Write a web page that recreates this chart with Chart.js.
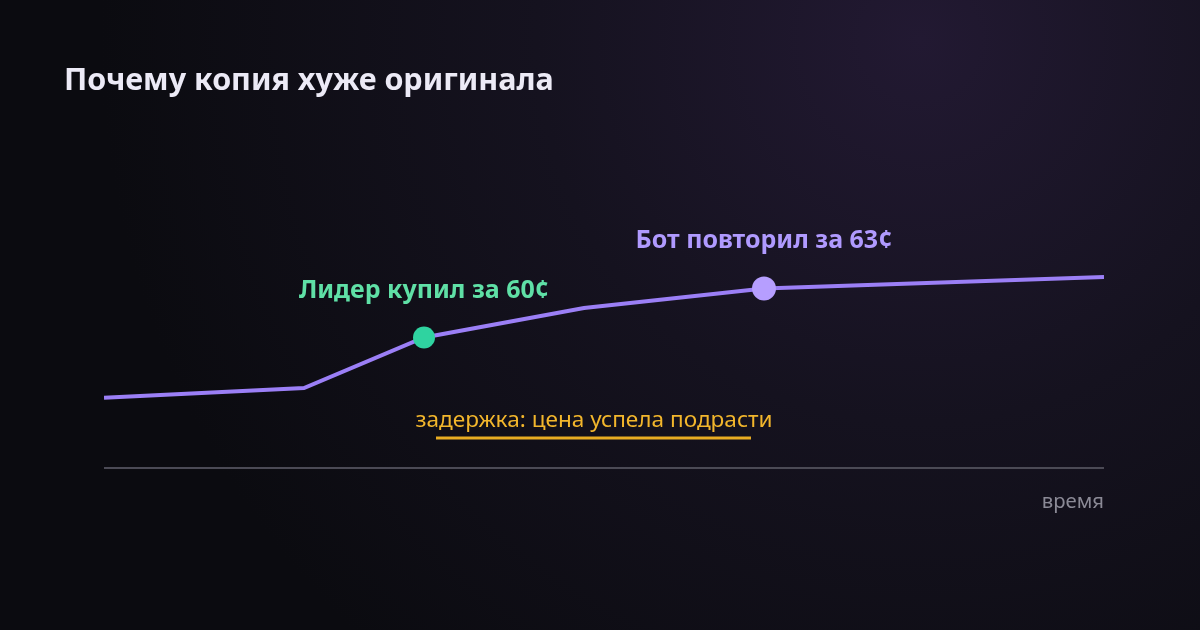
<!DOCTYPE html>
<html>
<head>
<meta charset="utf-8">
<script src="https://cdn.jsdelivr.net/npm/chart.js@4"></script>
<style>
  html, body { margin: 0; padding: 0; }
  body {
    width: 1200px; height: 630px; overflow: hidden;
    background: radial-gradient(circle at 920px 40px, #221932 0%, #15121f 35%, #0b0b10 75%);
  }
  #wrap { position: relative; width: 1200px; height: 630px; }
</style>
</head>
<body>
<div id="wrap"><canvas id="priceChart" width="1200" height="630"></canvas></div>
<script>
// time position (arbitrary units) and price in cents
var times = [0, 2, 3.2, 4.8, 6.6, 10];
var prices = [56.3, 56.9, 60, 61.8, 63, 63.7];
var leaderIndex = 2;
var botIndex = 4;
var leaderLabel = 'Лидер купил за 60¢';
var botLabel = 'Бот повторил за 63¢';
var delayLabel = 'задержка: цена успела подрасти';
var axisLabel = 'время';
var titleText = 'Почему копия хуже оригинала';

var FONT = '"Noto Sans", "Open Sans", sans-serif';

var points = times.map(function (t, i) { return { x: t, y: prices[i] }; });

var radii = prices.map(function (p, i) {
    if (i === leaderIndex) return 11;
    if (i === botIndex) return 12;
    return 0;
});
var dotColors = prices.map(function (p, i) {
    return i === leaderIndex ? '#2fd3a0' : '#b69eff';
});

var overlay = {
    id: 'overlay',
    afterDraw: function (chart) {
        var ctx = chart.ctx;
        var xs = chart.scales.x, ys = chart.scales.y;
        var area = chart.chartArea;
        ctx.save();

        // title
        ctx.fillStyle = '#eceaf6';
        ctx.font = 'bold 30.5px ' + FONT;
        ctx.textAlign = 'left';
        ctx.textBaseline = 'middle';
        ctx.fillText(titleText, 64, 81);

        // axis line
        ctx.strokeStyle = '#4b4a55';
        ctx.lineWidth = 2;
        ctx.beginPath();
        ctx.moveTo(area.left, area.bottom);
        ctx.lineTo(area.right, area.bottom);
        ctx.stroke();

        ctx.fillStyle = '#8b8a96';
        ctx.font = '20.3px ' + FONT;
        ctx.textAlign = 'right';
        ctx.fillText(axisLabel, area.right, area.bottom + 34);

        var lx = xs.getPixelForValue(times[leaderIndex]);
        var ly = ys.getPixelForValue(prices[leaderIndex]);
        var bx = xs.getPixelForValue(times[botIndex]);
        var by = ys.getPixelForValue(prices[botIndex]);

        ctx.textAlign = 'center';
        ctx.font = 'bold 25px ' + FONT;
        ctx.fillStyle = '#5fe0a6';
        ctx.fillText(leaderLabel, lx, ly - 47);
        ctx.fillStyle = '#b09aff';
        ctx.fillText(botLabel, bx, by - 48);

        // delay note
        ctx.fillStyle = '#f2b62c';
        ctx.font = '22.6px ' + FONT;
        ctx.fillText(delayLabel, (lx + bx) / 2, area.bottom - 47);
        ctx.strokeStyle = '#e8ac22';
        ctx.lineWidth = 3;
        ctx.beginPath();
        ctx.moveTo(lx + 12, area.bottom - 30);
        ctx.lineTo(bx - 13, area.bottom - 30);
        ctx.stroke();

        ctx.restore();
    }
};

var priceChart = new Chart(document.getElementById('priceChart'), {
    type: 'line',
    data: {
        datasets: [{
            data: points,
            borderColor: '#9b7ff6',
            borderWidth: 4,
            tension: 0,
            pointRadius: radii,
            pointHoverRadius: radii,
            pointBackgroundColor: dotColors,
            pointBorderWidth: 0
        }]
    },
    options: {
        responsive: false,
        animation: false,
        events: [],
        layout: { padding: { left: 104, right: 96, top: 158, bottom: 162 } },
        plugins: { legend: { display: false }, tooltip: { enabled: false } },
        scales: {
            x: { type: 'linear', min: 0, max: 10, display: false },
            y: { min: 52, max: 71, display: false }
        }
    },
    plugins: [overlay]
});
</script>
</body>
</html>
